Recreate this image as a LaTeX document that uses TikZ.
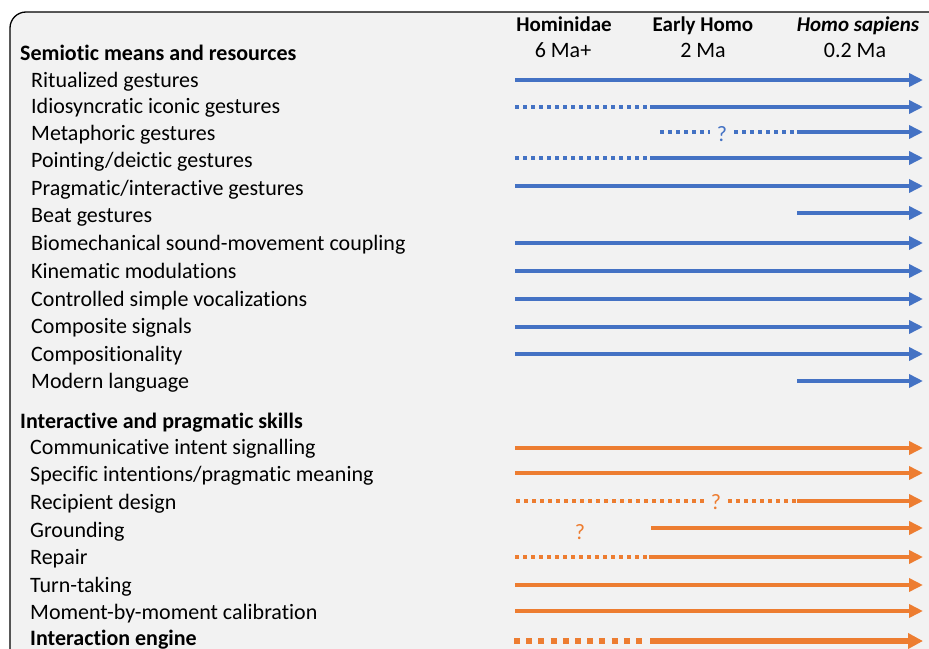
\documentclass[tikz,border=0pt]{standalone}
\usepackage{fontspec}
\setmainfont[RawFeature={-liga}]{Carlito}
\usetikzlibrary{arrows.meta}
\definecolor{semblue}{HTML}{4472C4}
\definecolor{intorange}{HTML}{ED7D31}
\definecolor{panelgray}{HTML}{F2F2F2}

\begin{document}
\begin{tikzpicture}[x=1pt,y=-1pt,
    lbl/.style={anchor=base west,inner sep=0pt,font=\fontsize{22}{26}\selectfont},
    grouphead/.style={lbl,font=\fontsize{22}{26}\selectfont\bfseries},
    era/.style={anchor=base,inner sep=0pt,font=\fontsize{22}{26}\selectfont},
    eraname/.style={era,font=\fontsize{21}{25}\selectfont\bfseries},
    qmark/.style={inner xsep=7pt,inner ysep=0pt,font=\fontsize{22}{26}\selectfont},
    tip/.style={-{Triangle[length=14pt,width=13pt]}},
    sem/.style={semblue,line width=4pt,tip},
    semdot/.style={semblue,line width=4pt,dash pattern=on 4pt off 4pt},
    inter/.style={intorange,line width=4pt,tip},
    interdot/.style={intorange,line width=4pt,dash pattern=on 4pt off 4pt}]
    \useasboundingbox (0,0) rectangle (929,648);
    \draw[fill=panelgray,line width=1.3pt,rounded corners=16pt] (10,12) rectangle (950,665);

    % column heads
    \node[eraname] (hominidae) at (564,31) {Hominidae};
    \node[eraname] (earlyhomo) at (703,31) {Early Homo};
    \node[eraname,font=\fontsize{21}{25}\selectfont\bfseries\itshape] (sapiens) at (858,31) {Homo sapiens};
    \node[era] (ma6)  at (563,57) {6 Ma+};
    \node[era] (ma2)  at (703,57) {2 Ma};
    \node[era] (ma02) at (855,57) {0.2 Ma};

    % semiotic means
    \node[grouphead] (semiotic) at (20,60) {Semiotic means and resources};
    \foreach \n/\t/\b in {ritual/{Ritualized gestures}/87,
                          idio/{Idiosyncratic iconic gestures}/113,
                          meta/{Metaphoric gestures}/140,
                          point/{Pointing/deictic gestures}/167,
                          pragm/{Pragmatic/interactive gestures}/195,
                          beat/{Beat gestures}/222,
                          biomech/{Biomechanical sound-movement coupling}/250,
                          kinem/{Kinematic modulations}/278,
                          vocal/{Controlled simple vocalizations}/306,
                          composite/{Composite signals}/333,
                          compos/{Compositionality}/361,
                          modern/{Modern language}/388}
        \node[lbl] (\n) at (31,\b) {\t};

    % interactive skills
    \node[grouphead] (interactive) at (20,428) {Interactive and pragmatic skills};
    \foreach \n/\t/\b in {intent/{Communicative intent signalling}/454,
                          specific/{Specific intentions/pragmatic meaning}/481,
                          recipient/{Recipient design}/509,
                          grounding/{Grounding}/537,
                          repair/{Repair}/564,
                          turn/{Turn-taking}/592,
                          calib/{Moment-by-moment calibration}/619}
        \node[lbl] (\n) at (30,\b) {\t};
    \node[grouphead] (engine) at (30,645) {Interaction engine};

    % blue timelines
    \foreach \n/\y in {ritual/80, pragm/186, biomech/243, kinem/271,
                       vocal/299, composite/327, compos/354} {
        \coordinate (\n-a) at (515,\y);
        \coordinate (\n-b) at (923,\y);
        \draw[sem] (\n-a) -- (\n-b);
    }
    \foreach \n/\y in {idio/107, point/158} {
        \coordinate (\n-a) at (515,\y);
        \coordinate (\n-m) at (650,\y);
        \coordinate (\n-b) at (923,\y);
        \draw[semdot] (\n-a) -- (\n-m);
        \draw[sem] (\n-m) -- (\n-b);
    }
    \foreach \n/\y in {beat/213, modern/381} {
        \coordinate (\n-a) at (797,\y);
        \coordinate (\n-b) at (923,\y);
        \draw[sem] (\n-a) -- (\n-b);
    }
    \node[qmark,text=semblue] (meta-q) at (722,134) {?};
    \coordinate (meta-a) at (660,132);
    \coordinate (meta-m) at (797,132);
    \coordinate (meta-b) at (923,132);
    \draw[semdot] (meta-a) -- (meta-q.west |- meta-a);
    \draw[semdot] (meta-q.east |- meta-a) -- (meta-m);
    \draw[sem] (meta-m) -- (meta-b);

    % orange timelines
    \foreach \n/\y in {intent/448, specific/473, turn/585, calib/611} {
        \coordinate (\n-a) at (515,\y);
        \coordinate (\n-b) at (923,\y);
        \draw[inter] (\n-a) -- (\n-b);
    }
    \node[qmark,text=intorange] (recipient-q) at (716,502) {?};
    \coordinate (recipient-a) at (516,501);
    \coordinate (recipient-m) at (797,501);
    \coordinate (recipient-b) at (923,501);
    \draw[interdot] (recipient-a) -- (recipient-q.west |- recipient-a);
    \draw[interdot] (recipient-q.east |- recipient-a) -- (recipient-m);
    \draw[inter] (recipient-m) -- (recipient-b);
    \node[qmark,text=intorange] (grounding-q) at (580,532) {?};
    \coordinate (grounding-a) at (651,528);
    \coordinate (grounding-b) at (923,528);
    \draw[inter] (grounding-a) -- (grounding-b);
    \coordinate (repair-a) at (515,557);
    \coordinate (repair-m) at (649,557);
    \coordinate (repair-b) at (923,557);
    \draw[interdot] (repair-a) -- (repair-m);
    \draw[inter] (repair-m) -- (repair-b);
    \coordinate (engine-a) at (514,641);
    \coordinate (engine-m) at (642,641);
    \coordinate (engine-n) at (650,641);
    \coordinate (engine-b) at (923,641);
    \draw[intorange,line width=6pt,dash pattern=on 6pt off 6.2pt] (engine-a) -- (engine-m);
    \draw[intorange,line width=6pt,-{Triangle[length=15pt,width=15pt]}] (engine-n) -- (engine-b);
\end{tikzpicture}
\end{document}
